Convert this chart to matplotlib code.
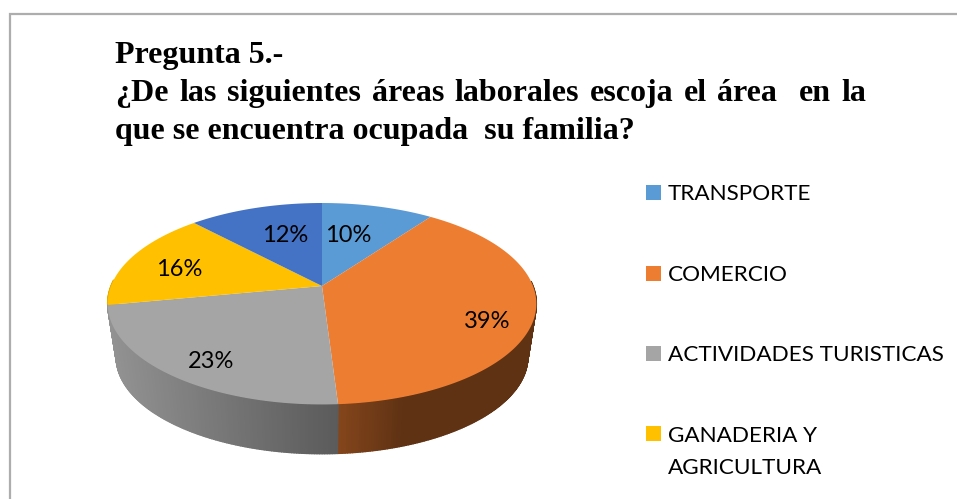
import numpy as np
import matplotlib
matplotlib.use('Agg')
import matplotlib.pyplot as plt
from matplotlib.collections import PolyCollection
from matplotlib.patches import Rectangle

# the legend is cut off at the bottom, the dark blue slice has no visible entry
categories = ['TRANSPORTE', 'COMERCIO', 'ACTIVIDADES TURISTICAS', 'GANADERIA Y\nAGRICULTURA']
values = [10, 39, 23, 16, 12]
colors = ['#5B9BD5', '#ED7D31', '#A5A5A5', '#FFC000', '#4472C4']
pct_labels = ['10%', '39%', '23%', '16%', '12%']
title_lines = ['Pregunta 5.-',
               '¿De las siguientes áreas laborales escoja el área  en la',
               'que se encuentra ocupada  su familia?']


def project(angle, scale=1.0, y0=286.0):
    # circle seen in perspective, angle clockwise from the top
    u, v = np.sin(angle), np.cos(angle)
    d = 1 + 0.176 * v
    return 322 + 211 * scale * u / d, y0 - 97.6 * scale * v / d


def wall_shade(x):
    return np.interp(x, [110, 337, 337.01, 400, 540], [0.9, 0.55, 0.56, 0.4, 0.4])


fig = plt.figure(figsize=(9.57, 4.99), dpi=100)
ax = fig.add_axes([0, 0, 1, 1])
ax.set_xlim(0, 957)
ax.set_ylim(499, 0)
ax.axis('off')

# chart border, only left and top are in the crop
ax.plot([10, 10, 957], [499, 14, 14], color='#ADADAD', lw=1.6, solid_joinstyle='miter')

edges = np.cumsum([0] + values) / sum(values) * 2 * np.pi

# side wall first, top surface goes over it
quads = []
for i in range(len(values)):
    a = np.linspace(edges[i], edges[i + 1], int(values[i] * 6) + 2)
    xt, yt = project(a)
    xb, yb = project(a, scale=0.96, y0=340.0)
    base = np.array(matplotlib.colors.to_rgb(colors[i]))
    for j in range(len(a) - 1):
        # the far side is hidden, skip it or it leaks around the top rim
        if np.cos(a[j]) > 0.05:
            continue
        q = [(xt[j], yt[j]), (xt[j + 1], yt[j + 1]), (xb[j + 1], yb[j + 1]), (xb[j], yb[j])]
        quads.append((yb[j], q, base * wall_shade((xb[j] + xb[j + 1]) / 2)))
# back to front so the far slices do not show at the silhouette
quads.sort(key=lambda item: item[0])
ax.add_collection(PolyCollection([q[1] for q in quads], facecolors=[q[2] for q in quads],
                                 edgecolors=[q[2] for q in quads], linewidths=1.0, zorder=1))

for i in range(len(values)):
    a = np.linspace(edges[i], edges[i + 1], 200)
    x, y = project(a)
    ax.fill(np.r_[322, x], np.r_[286, y], color=colors[i], lw=0, zorder=2)

label_pos = [(348, 236), (487, 322), (211, 362), (179, 269), (285, 236)]
for txt, (lx, ly) in zip(pct_labels, label_pos):
    ax.text(lx, ly, txt, family='Lato', fontsize=17, ha='center', va='center', color='black', zorder=3)

legend_y = [192.5, 273, 353, 433.5]
for i, ly in enumerate(legend_y):
    ax.add_patch(Rectangle((646, ly - 7.5), 15, 15, color=colors[i], lw=0))
    ax.text(668, ly - 8, categories[i], family='Lato', fontsize=16.2, ha='left', va='top',
            color='black', linespacing=1.8)

# title, second line is justified so words are placed one by one
title_font = dict(family='Liberation Serif', weight='bold', fontsize=23, va='baseline')
ax.text(115, 63, title_lines[0], **title_font)
ax.text(115, 139, title_lines[2], **title_font)
r = fig.canvas.get_renderer()
words = title_lines[1].split()
tw = [ax.text(0, 101, w, **title_font) for w in words]
widths = [t.get_window_extent(r).width for t in tw]
gap = (866 - 115 - sum(widths)) / len(words)
xpos = 115
for k, t in enumerate(tw):
    t.set_x(xpos)
    # double gap before "en"
    xpos += widths[k] + (2 * gap if words[k] == 'área' else gap)

fig.savefig('out.png', dpi=100)
